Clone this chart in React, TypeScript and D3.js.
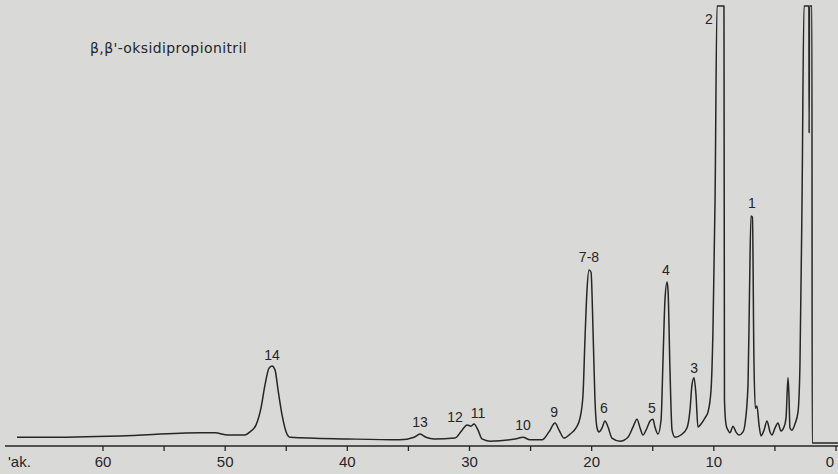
import React from 'react'
import * as d3 from 'd3'

// retention time (min) and detector signal (% of full scale)
const times = [
  67.04, 65.16, 58.61, 52.06, 50.83, 49.77, 48.38, 47.97, 47.47, 47.07, 46.74, 46.41, 46.17, 45.92, 45.67, 45.34,
  45.01, 44.69, 39.94, 35.69, 34.54, 34.05, 33.56, 32.9, 31.19, 30.61, 30.2, 29.88, 29.63, 29.3, 28.98, 28.32,
  26.27, 25.62, 25.05, 24.06, 23.49, 23.0, 22.67, 22.26, 21.77, 21.28, 20.95, 20.71, 20.55, 20.38, 20.22, 20.05,
  19.89, 19.73, 19.56, 19.4, 19.15, 18.91, 18.66, 18.34, 17.68, 17.03, 16.62, 16.29, 16.04, 15.8, 15.47, 15.22,
  14.98, 14.82, 14.57, 14.32, 14.16, 14.0, 13.83, 13.75, 13.59, 13.42, 13.18, 12.69, 12.2, 11.95, 11.79, 11.62,
  11.46, 11.3, 11.05, 10.72, 10.48, 10.23, 10.07, 9.9, 9.74, 9.17, 9.13, 9.0, 8.84, 8.68, 8.43, 8.19,
  7.94, 7.61, 7.45, 7.2, 7.08, 6.96, 6.84, 6.72, 6.6, 6.47, 6.3, 6.14, 5.89, 5.65, 5.4, 5.24,
  4.99, 4.75, 4.5, 4.26, 4.09, 3.93, 3.85, 3.77, 3.6, 3.36, 3.11, 2.95, 2.78, 2.62, 2.22, 2.2,
  2.17, 1.97, 1.95, -0.2,
]
const signal = [
  2.0, 2.0, 2.3, 3.0, 3.0, 2.5, 2.5, 3.2, 4.8, 8.6, 13.9, 17.7, 18.2, 17.3, 12.7, 7.0,
  3.2, 2.0, 1.6, 1.4, 2.0, 2.7, 2.0, 1.6, 1.8, 3.6, 4.8, 4.5, 5.0, 3.6, 1.6, 1.1,
  1.6, 2.0, 1.4, 1.4, 3.2, 5.2, 3.6, 1.8, 2.7, 4.1, 6.4, 11.6, 24.1, 35.5, 40.0, 39.5,
  26.4, 10.5, 4.1, 3.2, 4.1, 5.7, 4.3, 1.8, 1.1, 2.0, 4.3, 6.1, 4.1, 2.5, 4.1, 5.7,
  6.1, 4.3, 2.7, 5.9, 19.5, 33.2, 37.3, 35.5, 17.3, 3.6, 2.0, 2.5, 4.1, 8.2, 13.9, 15.5,
  11.6, 4.3, 5.0, 6.4, 7.7, 12.7, 26.4, 55.9, 100, 100, 10.5, 4.8, 3.6, 3.0, 4.5, 3.2,
  2.5, 3.2, 5.0, 14.0, 35.0, 52.3, 52.0, 20.0, 8.6, 9.1, 4.8, 2.3, 3.6, 5.7, 3.2, 2.5,
  4.1, 5.2, 3.4, 4.3, 6.4, 15.5, 11.6, 4.1, 3.6, 5.0, 7.7, 18.4, 55.9, 100, 100, 71.1,
  100, 100, 0.7, 0.7,
]

// peak annotations: name, retention time, label height
const peakNames = ['14', '13', '12', '11', '10', '9', '7-8', '6', '5', '4', '3', '2', '1']
const peakTimes = [46.17, 34.05, 31.19, 29.3, 25.62, 23.08, 20.22, 18.99, 15.06, 13.92, 11.62, 10.4, 6.88]
const peakLabelLevels = [20.7, 5.5, 6.6, 7.5, 4.8, 7.7, 43.0, 8.6, 8.6, 40.0, 17.7, 97.0, 55.2]

const majorTicks = [60, 50, 40, 30, 20, 10, 0]
const minorTicks = [55, 45, 35, 25, 15, 5]

const title = "β,β'-oksidipropionitril"
const unitLabel = "'ak."

export default function App() {
  const width = 838
  const height = 474
  const axisY = 446

  const x = d3.scaleLinear().domain([60, 0]).range([103, 836])
  const y = d3.scaleLinear().domain([0, 100]).range([axisY, 6])

  const pts: [number, number][] = times.map((t, i) => [t, signal[i]])
  const line = d3.line<[number, number]>()
    .x(d => x(d[0]))
    .y(d => y(d[1]))
    .curve(d3.curveMonotoneX)

  const ink = '#262626'
  const font = 'Liberation Sans, Arial, sans-serif'

  return (
    <svg width={width} height={height} style={{position: 'absolute', left: 0, top: 0}}>
      <rect width={width} height={height} fill="#d9d9d7" />
      <text x={90} y={53} fontFamily="DejaVu Sans, sans-serif" fontSize={14} letterSpacing={0.4} fill={ink}>{title}</text>

      {/* x axis */}
      <line x1={5} x2={838} y1={axisY} y2={axisY} stroke={ink} strokeWidth={1.6} />
      {majorTicks.map(t => (
        <g key={'M' + t}>
          <line x1={x(t)} x2={x(t)} y1={axisY} y2={axisY + 5} stroke={ink} strokeWidth={1.3} />
          <text x={Math.min(x(t), 830)} y={467} textAnchor="middle" fontFamily={font} fontSize={15} fill={ink}>{t}</text>
        </g>
      ))}
      {minorTicks.map(t => (
        <line key={'m' + t} x1={x(t)} x2={x(t)} y1={axisY} y2={axisY + 5} stroke={ink} strokeWidth={1.3} />
      ))}
      <text x={8} y={467} fontFamily={font} fontSize={15} fill={ink}>{unitLabel}</text>

      {/* chromatogram trace */}
      <path d={line(pts) || ''} fill="none" stroke={ink} strokeWidth={1.5} strokeLinejoin="round" />

      {peakNames.map((n, i) => (
        <text key={n} x={x(peakTimes[i])} y={y(peakLabelLevels[i])} dy="0.35em" textAnchor="middle"
              fontFamily={font} fontSize={14} fill={ink}>{n}</text>
      ))}
    </svg>
  )
}
